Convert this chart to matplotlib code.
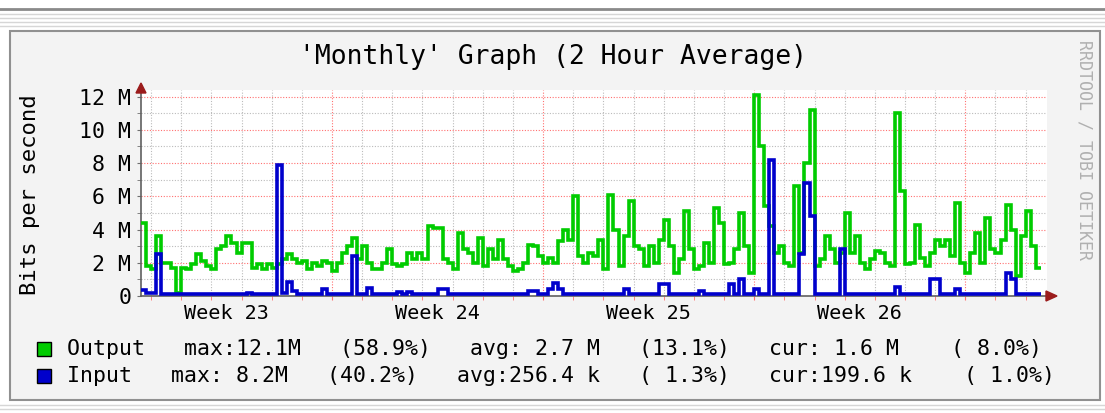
"""MRTG style monthly traffic graph"""

import numpy as np
import matplotlib
matplotlib.use("Agg")
import matplotlib.pyplot as plt
from matplotlib.patches import Rectangle, Polygon
from matplotlib.lines import Line2D
from matplotlib.ticker import FuncFormatter
from matplotlib.transforms import blended_transform_factory

# 2 hour averages resampled to 4 hour steps, Mbit/s
output_mbps = [
    4.4, 1.8, 1.6, 3.6, 2.0, 2.0, 1.7, 0.2, 1.7, 1.6,
    1.9, 2.5, 2.1, 1.8, 1.6, 2.8, 3.0, 3.6, 3.2, 2.6,
    3.2, 3.2, 1.7, 1.9, 1.6, 1.9, 1.7, 1.9, 2.2, 2.5,
    2.2, 2.0, 2.1, 1.6, 2.0, 1.8, 2.1, 2.0, 1.5, 2.0,
    2.6, 3.0, 3.5, 2.2, 3.0, 2.0, 1.6, 1.6, 2.0, 2.8,
    1.9, 1.8, 1.9, 2.6, 2.2, 2.6, 2.2, 4.2, 4.1, 4.1,
    2.2, 2.0, 1.6, 3.8, 2.8, 2.6, 2.0, 3.5, 1.8, 2.8,
    2.2, 3.4, 2.2, 1.8, 1.5, 1.6, 2.0, 3.1, 3.0, 2.4,
    2.0, 2.3, 2.0, 3.3, 4.0, 3.4, 6.0, 2.4, 2.0, 2.6,
    2.4, 3.4, 1.6, 6.1, 4.0, 1.8, 3.6, 5.7, 3.0, 2.8,
    1.8, 3.0, 2.0, 3.4, 4.6, 3.0, 1.4, 2.2, 5.1, 2.8,
    1.6, 1.8, 3.2, 2.0, 5.3, 4.4, 1.9, 2.0, 2.8, 5.0,
    3.0, 1.4, 12.1, 9.0, 5.4, 4.2, 2.6, 3.0, 2.0, 1.8,
    6.6, 2.6, 8.0, 11.2, 1.8, 2.2, 3.6, 2.8, 2.0, 2.6,
    5.0, 2.6, 3.6, 2.0, 1.6, 2.2, 2.7, 2.6, 2.0, 1.8,
    11.0, 6.3, 1.9, 2.0, 4.3, 2.3, 1.8, 2.6, 3.4, 3.0,
    3.4, 2.4, 5.6, 2.0, 1.4, 2.6, 3.8, 2.0, 4.7, 2.8,
    2.6, 3.4, 5.5, 4.0, 1.2, 3.6, 5.1, 3.0, 1.7,
]
input_mbps = [
    0.35, 0.2, 0.2, 2.5, 0.15, 0.1, 0.1, 0.1, 0.1, 0.1,
    0.1, 0.1, 0.1, 0.1, 0.1, 0.1, 0.1, 0.1, 0.1, 0.1,
    0.1, 0.2, 0.1, 0.1, 0.1, 0.1, 0.1, 7.9, 0.2, 0.85,
    0.3, 0.1, 0.1, 0.1, 0.1, 0.1, 0.45, 0.1, 0.1, 0.1,
    0.1, 0.1, 2.4, 0.15, 0.1, 0.5, 0.1, 0.1, 0.1, 0.1,
    0.1, 0.25, 0.1, 0.25, 0.1, 0.1, 0.1, 0.1, 0.15, 0.4,
    0.4, 0.1, 0.1, 0.1, 0.1, 0.1, 0.1, 0.1, 0.1, 0.1,
    0.1, 0.1, 0.1, 0.1, 0.1, 0.1, 0.1, 0.3, 0.3, 0.1,
    0.1, 0.4, 0.8, 0.4, 0.1, 0.1, 0.1, 0.1, 0.1, 0.1,
    0.1, 0.1, 0.1, 0.1, 0.1, 0.1, 0.4, 0.1, 0.1, 0.1,
    0.1, 0.1, 0.1, 0.7, 0.7, 0.1, 0.1, 0.1, 0.1, 0.1,
    0.1, 0.3, 0.1, 0.1, 0.1, 0.1, 0.1, 0.7, 0.1, 1.0,
    0.1, 0.1, 0.4, 0.1, 0.1, 8.2, 0.1, 0.1, 0.1, 0.1,
    0.1, 2.5, 6.8, 4.8, 0.1, 0.1, 0.1, 0.1, 0.1, 2.8,
    0.1, 0.1, 0.1, 0.1, 0.1, 0.1, 0.1, 0.1, 0.1, 0.1,
    0.55, 0.1, 0.1, 0.1, 0.1, 0.1, 0.1, 1.0, 1.0, 0.1,
    0.1, 0.1, 0.4, 0.1, 0.1, 0.1, 0.1, 0.1, 0.1, 0.1,
    0.1, 0.1, 1.4, 1.0, 0.1, 0.1, 0.1, 0.1, 0.1,
]
first_hour = 16   # hours after start of week 23
step_hours = 4
week_labels = ["Week 23", "Week 24", "Week 25", "Week 26"]
legend_stats = [
    "Output   max:12.1M   (58.9%)   avg: 2.7 M   (13.1%)   cur: 1.6 M    ( 8.0%)",
    "Input   max: 8.2M   (40.2%)   avg:256.4 k   ( 1.3%)   cur:199.6 k    ( 1.0%)",
]
out_color = "#00CC00"
in_color = "#0000CC"

W, H = 1105, 413
MONO = "DejaVu Sans Mono"


def fx(x):
    return x / W


def fy(y):
    return 1 - y / H


fig = plt.figure(figsize=(W / 100, H / 100), dpi=100, facecolor="white")

# page decoration and panel
for y, c, lw in [(9, "#8A8A8A", 2.0), (14, "#D6D6D6", 1.0), (18, "#D6D6D6", 1.0),
                 (22, "#D6D6D6", 1.0), (26, "#D6D6D6", 1.0),
                 (405, "#D6D6D6", 1.0), (409, "#D6D6D6", 1.0)]:
    fig.add_artist(Line2D([0, 1], [fy(y), fy(y)], color=c, lw=lw,
                          transform=fig.transFigure))
fig.add_artist(Rectangle((fx(10), fy(400)), (1100 - 10) / W, (400 - 31) / H,
                         facecolor="#F3F3F3", edgecolor="#909090", lw=1.5,
                         transform=fig.transFigure, zorder=0))

ax = fig.add_axes([fx(141), fy(296), (1047 - 141) / W, (296 - 90) / H])
ax.set_facecolor("white")

edges = first_hour + step_hours * np.arange(len(output_mbps) + 1)
ax.stairs(output_mbps, edges, color=out_color, lw=2.6, baseline=None, zorder=3)
ax.stairs(input_mbps, edges, color=in_color, lw=2.6, baseline=None, zorder=4)

ax.set_xlim(16, 737)
ax.set_ylim(0, 12.4)

ax.set_xticks(np.arange(168, 737, 168))
ax.set_xticks([h for h in range(24, 737, 24) if h % 168], minor=True)
ax.set_yticks(np.arange(0, 13, 2))
ax.set_yticks(np.arange(1, 12, 2), minor=True)
ax.set_axisbelow(True)
ax.grid(which="major", color="#FF7070", lw=0.8, linestyle=(0, (1, 1.5)))
ax.grid(which="minor", color="#BBBBBB", lw=0.8, linestyle=(0, (1, 1.5)))
ax.yaxis.set_major_formatter(FuncFormatter(lambda v, p: "0" if v == 0 else f"{v:.0f} M"))
ax.tick_params(axis="x", which="both", labelbottom=False, length=3, color="#FF7070")
ax.tick_params(axis="y", which="both", length=3, pad=4, color="#707070",
               labelsize=15.5, labelfontfamily=MONO)

for side in ["top", "right"]:
    ax.spines[side].set_visible(False)
for side in ["left", "bottom"]:
    ax.spines[side].set_color("#606060")
    ax.spines[side].set_linewidth(1.2)

trans = blended_transform_factory(ax.transData, ax.transAxes)
for i, lab in enumerate(week_labels):
    ax.text(84 + 168 * i, -0.083, lab, transform=trans, ha="center", va="center",
            fontsize=14.5, family=MONO)

# axis arrows
arrow_col = "#9B1C1C"
fig.add_artist(Polygon([(fx(141), fy(83)), (fx(136), fy(93)), (fx(146), fy(93))],
                       closed=True, color=arrow_col, transform=fig.transFigure))
fig.add_artist(Polygon([(fx(1057), fy(296)), (fx(1046), fy(291)), (fx(1046), fy(301))],
                       closed=True, color=arrow_col, transform=fig.transFigure))

fig.text(fx(553), fy(57), "'Monthly' Graph (2 Hour Average)", ha="center", va="center",
         fontsize=19, family=MONO)
fig.text(fx(30), fy(195), "Bits per second", rotation=90, ha="center", va="center",
         fontsize=16, family=MONO)
fig.text(fx(1085), fy(150), "RRDTOOL / TOBI OETIKER", rotation=270, ha="center",
         va="center", fontsize=12, family=MONO, color="#B0B0B0")

for i, (text, col) in enumerate(zip(legend_stats, [out_color, in_color])):
    yc = 349 + 27 * i
    fig.add_artist(Rectangle((fx(37), fy(yc + 7)), 14 / W, 14 / H, facecolor=col,
                             edgecolor="black", lw=1, transform=fig.transFigure))
    fig.text(fx(67), fy(yc), text, ha="left", va="center", fontsize=15.5, family=MONO)

fig.savefig("out.png", dpi=100, facecolor=fig.get_facecolor())
